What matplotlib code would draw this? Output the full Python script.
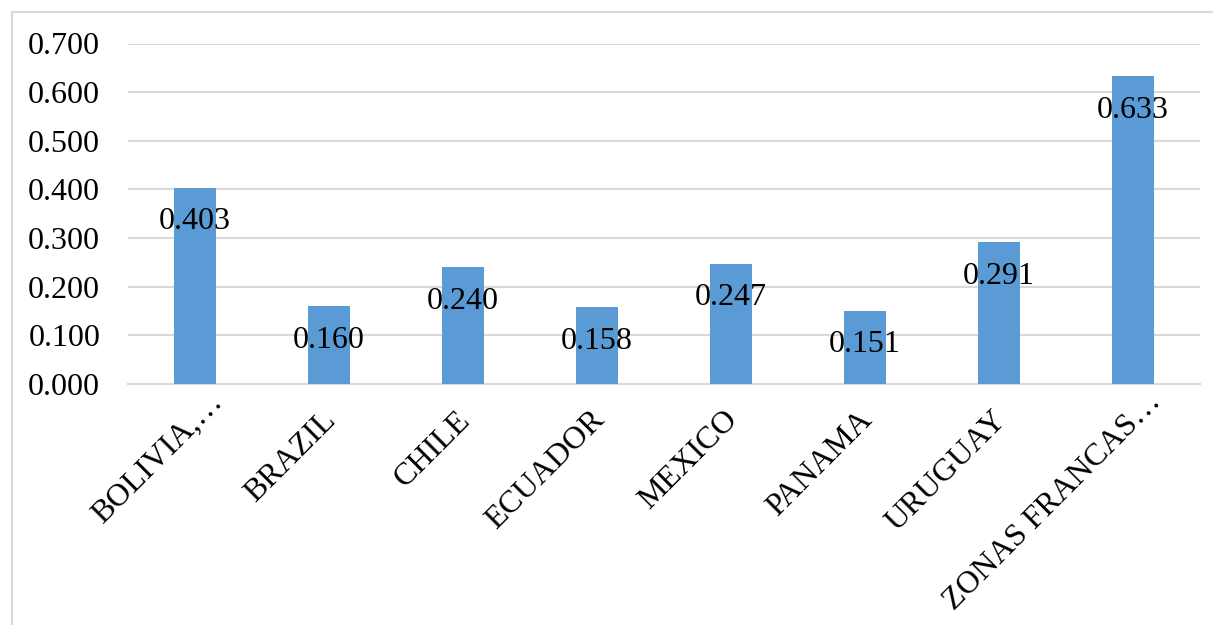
import matplotlib.pyplot as plt
from matplotlib.patches import Rectangle
from matplotlib.transforms import ScaledTranslation

categories = ['BOLIVIA,\u2026', 'BRAZIL', 'CHILE', 'ECUADOR', 'MEXICO',
              'PANAMA', 'URUGUAY', 'ZONAS FRANCAS\u2026']
values = [0.403, 0.160, 0.240, 0.158, 0.247, 0.151, 0.291, 0.633]
yticks = [0.0, 0.1, 0.2, 0.3, 0.4, 0.5, 0.6, 0.7]

plt.rcParams['font.family'] = ['Liberation Serif', 'DejaVu Serif']

W, H = 1213, 625
fig = plt.figure(figsize=(W / 100, H / 100), dpi=100)
ax = fig.add_axes([128 / W, 1 - 384 / H, (1200 - 128) / W, (384 - 43.5) / H])

# chart border
fig.patches.append(Rectangle((12 / W, -0.1), 1.2, 1 - 12 / H + 0.1,
                             transform=fig.transFigure, fill=False,
                             edgecolor='#D9D9D9', lw=1.5))

x = list(range(len(categories)))
bars = ax.bar(x, values, width=0.31, color='#5B9BD5', zorder=3)

for xi, v in zip(x, values):
    ax.annotate('%.3f' % v, (xi, v), xytext=(0, -14), textcoords='offset points',
                ha='center', va='top', fontsize=23, zorder=4)

ax.set_xlim(-0.5, len(categories) - 0.5)
ax.set_ylim(0, 0.7)
ax.set_yticks(yticks)
ax.set_yticklabels(['%.3f' % t for t in yticks], fontsize=23)
ax.tick_params(axis='y', length=0, pad=20)

# category labels, rotated like excel; truncated ones sit further up-right
ax.set_xticks(x)
ax.set_xticklabels([])
ax.tick_params(axis='x', length=0)
for xi, lab in zip(x, categories):
    if lab.endswith('\u2026'):
        shift = ScaledTranslation(0.29, -0.19, fig.dpi_scale_trans)
    else:
        shift = ScaledTranslation(0.08, -0.37, fig.dpi_scale_trans)
    ax.text(xi, 0, lab, transform=ax.get_xaxis_transform() + shift,
            rotation=45, rotation_mode='anchor', ha='right', va='baseline',
            fontsize=23, clip_on=False)

ax.grid(axis='y', color='#D9D9D9', lw=1.5, zorder=0)
for s in ['top', 'right', 'left']:
    ax.spines[s].set_visible(False)
ax.spines['bottom'].set_color('#D9D9D9')
ax.spines['bottom'].set_linewidth(1.5)

fig.savefig('out.png', dpi=100)
